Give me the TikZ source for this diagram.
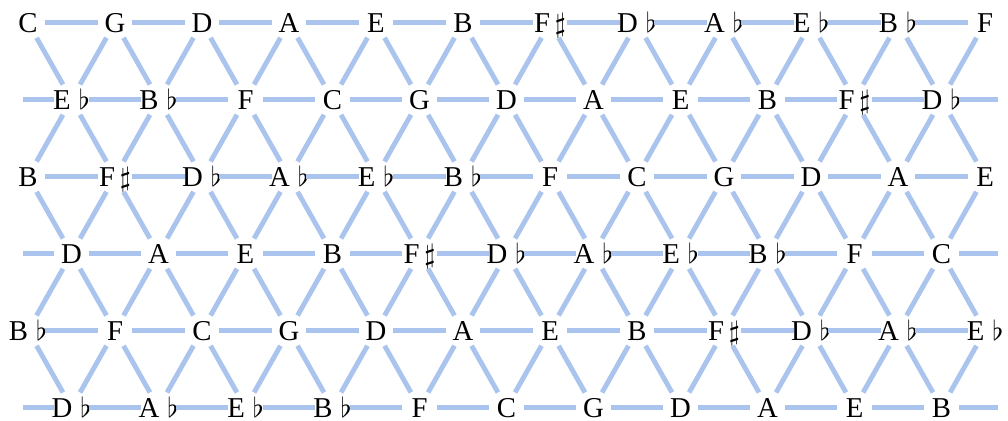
\documentclass[tikz,border=0pt]{standalone}
\usepackage{fontspec}
\setmainfont{Liberation Serif}
\usepackage{xcolor}
\usepackage{tikz}
\definecolor{latblue}{RGB}{170,196,238}
\newcommand{\fl}[1]{#1\;$\flat$}
\newcommand{\sh}[1]{#1\,$\sharp$}

\begin{document}
\begin{tikzpicture}[x=1cm, y=0.885cm,
    nt/.style={inner sep=0pt, text height=1.45ex, text depth=0pt, font=\fontsize{9.4}{11}\selectfont},
    ln/.style={line width=1.6pt, latblue, shorten <=0.2cm, shorten >=0.2cm},
    stub/.style={line width=1.6pt, latblue, shorten >=0.2cm}]
    \useasboundingbox (-0.322cm,0.26cm) rectangle (11.264cm,-4.568cm);
    % rows of the lattice (fifths left to right)
    \foreach \nm [count=\c from 0] in {C,G,D,A,E,B,\sh{F},\fl{D},\fl{A},\fl{E},\fl{B},F}
      \node[nt] (n0-\c) at (\c,0) {\nm};
    \foreach \nm [count=\c from 0] in {\fl{E},\fl{B},F,C,G,D,A,E,B,\sh{F},\fl{D}}
      \node[nt] (n1-\c) at (\c+0.5,-1) {\nm};
    \foreach \nm [count=\c from 0] in {B,\sh{F},\fl{D},\fl{A},\fl{E},\fl{B},F,C,G,D,A,E}
      \node[nt] (n2-\c) at (\c,-2) {\nm};
    \foreach \nm [count=\c from 0] in {D,A,E,B,\sh{F},\fl{D},\fl{A},\fl{E},\fl{B},F,C}
      \node[nt] (n3-\c) at (\c+0.5,-3) {\nm};
    \foreach \nm [count=\c from 0] in {\fl{B},F,C,G,D,A,E,B,\sh{F},\fl{D},\fl{A},\fl{E}}
      \node[nt] (n4-\c) at (\c,-4) {\nm};
    \foreach \nm [count=\c from 0] in {\fl{D},\fl{A},\fl{E},\fl{B},F,C,G,D,A,E,B}
      \node[nt] (n5-\c) at (\c+0.5,-5) {\nm};
    % horizontal edges
    \foreach \r in {0,2,4}
      \foreach \c in {0,...,10} {
        \pgfmathtruncatemacro{\d}{\c+1}
        \draw[ln] (n\r-\c.center) -- (n\r-\d.center);
      }
    \foreach \r in {1,3,5}
      \foreach \c in {0,...,9} {
        \pgfmathtruncatemacro{\d}{\c+1}
        \draw[ln] (n\r-\c.center) -- (n\r-\d.center);
      }
    % diagonal edges
    \foreach \r in {0,2,4} {
      \pgfmathtruncatemacro{\s}{\r+1}
      \foreach \c in {0,...,10}
        \draw[ln] (n\r-\c.center) -- (n\s-\c.center);
      \foreach \c in {1,...,11} {
        \pgfmathtruncatemacro{\d}{\c-1}
        \draw[ln] (n\r-\c.center) -- (n\s-\d.center);
      }
    }
    \foreach \r in {1,3} {
      \pgfmathtruncatemacro{\s}{\r+1}
      \foreach \c in {0,...,10} {
        \pgfmathtruncatemacro{\d}{\c+1}
        \draw[ln] (n\r-\c.center) -- (n\s-\c.center);
        \draw[ln] (n\r-\c.center) -- (n\s-\d.center);
      }
    }
    % loose ends at the sides
    \foreach \r in {1,3,5} {
      \coordinate (lt\r) at (-0.06,-\r);
      \coordinate (rt\r) at (11.15,-\r);
      \draw[stub] (lt\r) -- (n\r-0.center);
      \draw[stub] (rt\r) -- (n\r-10.center);
    }
\end{tikzpicture}
\end{document}
